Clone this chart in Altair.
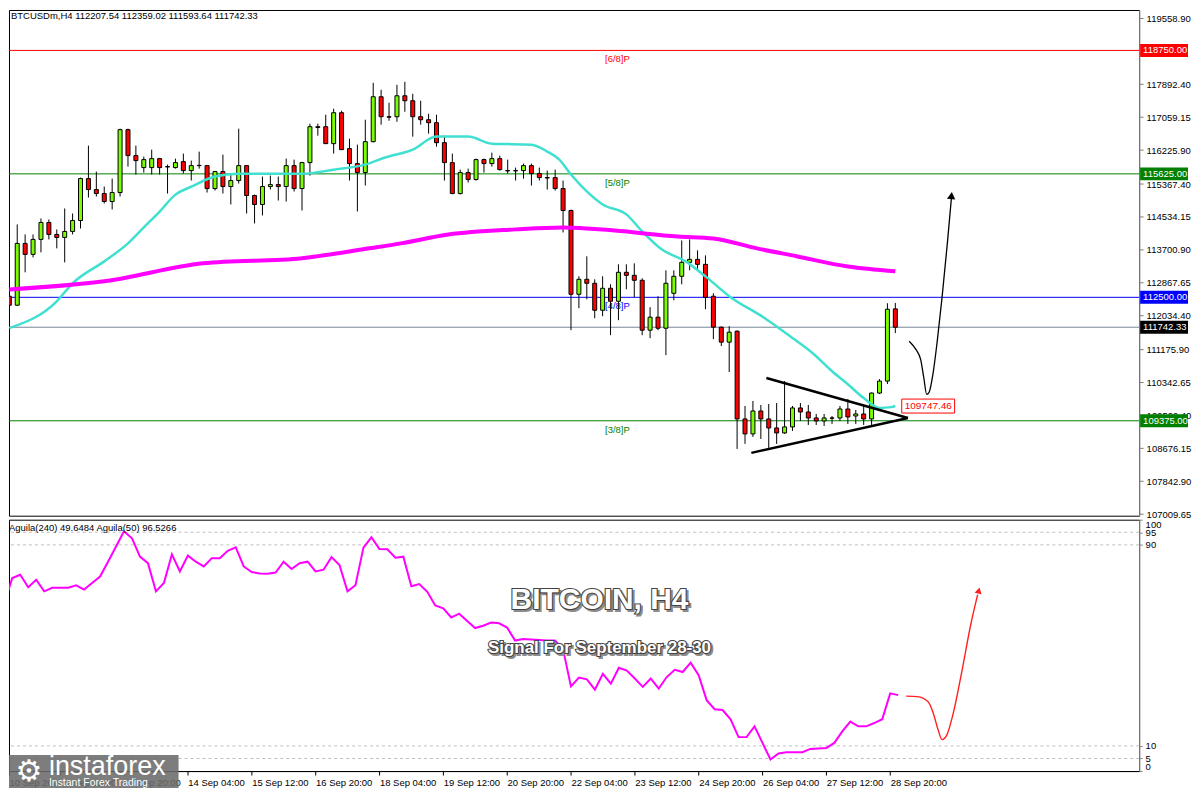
import altair as alt
import pandas as pd

# ---------------- values ----------------
header_text = "BTCUSDm,H4  112207.54 112359.02 111593.64 111742.33"
osc_header = "Aguila(240) 49.6484  Aguila(50) 96.5266"
title_text = "BITCOIN, H4"
subtitle_text = "Signal For September 28-30"

# H4 candles, index 1..113 (candle 112 = 28 Sep 20:00)
opens = [112527, 112300, 113865, 113587, 113966, 114395, 114092, 114016, 114168, 114445,
         115506, 115228, 115127, 114925, 115152, 116744, 116087, 115784, 115784, 116011,
         115809, 115784, 115935, 115708, 115834, 115834, 115253, 115683, 115304, 115456,
         115834, 115077, 114850, 115304, 115354, 115304, 115834, 115253, 115910, 116819,
         116819, 116390, 117173, 116264, 115885, 115658, 116440, 117577, 117072, 117072,
         117602, 117476, 117072, 116996, 116920, 116415, 115910, 115127, 115658, 115481,
         115986, 115885, 116011, 115708, 115700, 115708, 115834, 115633, 115531, 115531,
         115253, 114698, 112577, 112956, 112855, 112173, 112729, 112400, 113133, 113057,
         112931, 111668, 111997, 111718, 112602, 113032, 113385, 113461, 113335, 112527,
         111744, 111365, 111643, 109421, 109042, 109623, 109421, 109193, 109067, 109219,
         109699, 109597, 109446, 109370, 109446, 109446, 109673, 109496, 109547, 109421,
         110077, 110380, 112207.54]
highs = [112855, 114345, 114092, 114092, 114496, 114470, 114218, 114749, 114622, 115531,
         116340, 115683, 115304, 115506, 116769, 116770, 116340, 116062, 116238, 116030,
         115860, 116011, 116138, 115961, 116188, 115850, 115700, 116112, 115607, 116769,
         115850, 115102, 115557, 115582, 115557, 116011, 115986, 115930, 116895, 116895,
         117122, 117274, 117224, 116516, 116365, 116996, 117930, 117754, 117425, 117880,
         117955, 117652, 117476, 117148, 117122, 116592, 116138, 115733, 115758, 116011,
         116011, 116163, 116087, 115986, 115784, 115885, 115885, 115784, 115708, 115733,
         115456, 114720, 113032, 113537, 112956, 113032, 112830, 113335, 113335, 113360,
         112981, 112250, 112527, 113183, 113183, 113940, 113966, 113688, 113562, 112602,
         111760, 111769, 111660, 109750, 109875, 109775, 109800, 109825, 110380, 109750,
         109825, 109775, 109547, 109547, 109496, 109750, 109926, 109648, 109775, 110090,
         110430, 112350, 112359.02]
lows = [112098, 112280, 113133, 113510, 113638, 113966, 113739, 113385, 114092, 114243,
        115026, 115051, 114875, 114724, 115051, 115809, 115607, 115658, 115607, 115607,
        115127, 115758, 115633, 115456, 115758, 115152, 115203, 115127, 114850, 115380,
        114622, 114370, 114572, 115228, 114951, 114925, 115178, 114698, 115582, 116592,
        116390, 116138, 116230, 115456, 114673, 115329, 116420, 116870, 116970, 116945,
        117198, 116567, 116870, 116643, 116314, 115456, 115110, 115102, 115405, 115456,
        115658, 115809, 115708, 115633, 115456, 115506, 115329, 115456, 115228, 115203,
        114142, 111668, 112224, 112451, 111971, 112022, 111542, 111921, 112703, 112501,
        111542, 111466, 111668, 111037, 112425, 112830, 113183, 113183, 112198, 111441,
        111265, 110608, 108663, 108790, 108966, 108915, 108688, 108790, 109042, 109118,
        109370, 109269, 109269, 109244, 109295, 109370, 109295, 109295, 109269, 109269,
        110052, 110305, 111593.64]
closes = [112300, 113865, 113587, 113966, 114395, 114092, 114016, 114168, 114445, 115506,
          115228, 115127, 114925, 115152, 116744, 116087, 115961, 115986, 116011, 115784,
          115800, 115910, 115708, 115834, 115840, 115253, 115683, 115304, 115456, 115834,
          115077, 114850, 115304, 115354, 115304, 115834, 115253, 115910, 116819, 116800,
          116390, 117173, 116238, 115885, 115658, 116440, 117577, 117072, 117060, 117602,
          117476, 117072, 116996, 116920, 116415, 115910, 115127, 115658, 115481, 115986,
          115885, 116011, 115733, 115700, 115708, 115834, 115633, 115531, 115520, 115253,
          114698, 112577, 112956, 112855, 112173, 112729, 112400, 113133, 113057, 112931,
          111668, 111997, 111718, 112855, 113032, 113385, 113461, 113335, 112501, 111744,
          111365, 111617, 109421, 109042, 109623, 109421, 109193, 109067, 109219, 109699,
          109597, 109446, 109370, 109446, 109440, 109673, 109471, 109547, 109421, 110077,
          110380, 112198, 111742.33]
candle_idx = list(range(1, len(opens) + 1))

# fast moving average (turquoise)
cyan_idx = [1, 7, 9, 13, 16, 18, 20, 22, 24, 27, 30, 38, 42, 46, 48.5, 52, 55, 59, 62, 67,
            69, 70.5, 72, 74, 76, 79, 81, 83.5, 86.5, 89, 92, 96.5, 100, 102.7, 105, 107,
            109, 111, 112.5, 113]
cyan_val = [111720, 112400, 112855, 113410, 113865, 114270, 114670, 115100, 115300, 115560,
            115630, 115630, 115730, 115860, 116040, 116240, 116570, 116570, 116390, 116365,
            116190, 115990, 115610, 115180, 114850, 114600, 114170, 113710, 113410, 113030,
            112530, 111970, 111470, 111060, 110630, 110300, 109950, 109700, 109720, 109747.46]
# slow moving average (magenta)
mag_idx = [1, 13, 25.5, 38, 46.5, 50.5, 56.5, 65, 71, 77.5, 85.5, 90, 95.5, 100.5, 107, 113]
mag_val = [112700, 112905, 113360, 113490, 113740, 113865, 114090, 114220, 114270, 114190,
           114040, 113990, 113740, 113540, 113280, 113160]

# Aguila(50) oscillator, one value per candle
aguila50 = [66.6, 76.8, 78.1, 73.1, 76.1, 71.5, 72.9, 72.9, 72.9, 73.9,
            72.2, 74.8, 77.4, 83.3, 89.3, 95.4, 92.6, 85.3, 82.7, 71.5,
            74.8, 86.2, 79.4, 85.7, 83.3, 81.4, 84.7, 84.7, 87.6, 89.0,
            81.4, 79.2, 78.6, 78.5, 79.0, 83.3, 80.4, 82.7, 83.3, 79.4,
            80.1, 85.1, 82.0, 71.5, 73.9, 88.9, 93.0, 88.3, 88.2, 84.9,
            85.3, 73.5, 74.4, 71.3, 65.9, 64.7, 61.1, 62.6, 59.7, 56.9,
            57.8, 59.1, 58.8, 57.1, 51.9, 52.5, 52.3, 52.1, 51.9, 51.9,
            48.6, 33.7, 37.2, 36.5, 32.4, 38.7, 34.8, 41.1, 40.0, 36.8,
            33.5, 36.8, 32.8, 37.4, 40.3, 39.4, 43.1, 38.1, 28.2, 24.6,
            24.3, 20.6, 13.5, 13.5, 17.8, 11.2, 4.6, 7.0, 7.5, 7.5,
            7.5, 8.8, 9.0, 9.2, 11.2, 15.8, 19.7, 17.8, 17.8, 19.1,
            20.6, 30.9, 30.2]

level_prices = [118750.00, 115625.00, 112500.00, 109375.00]
level_names = ["[6/8]P", "[5/8]P", "[4/8]P", "[3/8]P"]
current_price = 111742.33
ma_label_value = 109747.46

price_ticks = [119558.90, 117892.40, 117059.15, 116225.90, 115367.40, 114534.15, 113700.90,
               112867.65, 112034.40, 111175.90, 110342.65, 109509.40, 108676.15, 107842.90,
               107009.65]
time_tick_idx = [1.59, 8, 16, 24, 32, 40, 48, 56, 64, 72, 80, 88, 96, 104, 112]
time_tick_labels = ["10 Sep 2025", "11 Sep 12:00", "12 Sep 20:00", "14 Sep 04:00",
                    "15 Sep 12:00", "16 Sep 20:00", "18 Sep 04:00", "19 Sep 12:00",
                    "20 Sep 20:00", "22 Sep 04:00", "23 Sep 12:00", "24 Sep 20:00",
                    "26 Sep 04:00", "27 Sep 12:00", "28 Sep 20:00"]
osc_levels = [95, 90, 10, 5]
osc_ticks = [0, 5, 10, 90, 95, 100]

# hand-drawn annotations (candle index, price / oscillator value)
tri_seg = ["upper", "upper", "lower", "lower"]
tri_idx = [96.7, 114.6, 94.8, 114.6]
tri_price = [110456, 109446, 108563, 109446]
path_idx = [114.75, 115.6, 116.2, 116.6, 116.96, 117.25, 117.75, 118.3, 118.9, 119.6, 120.08]
path_price = [111390, 111181, 110928, 110464, 110045, 110085, 110550, 111390, 112484, 113915, 114993]
head_idx = [120.1]
head_price = [115077]
osc_path_idx = [114.0, 115.4, 116.75, 117.4, 118.0, 118.5, 119.1, 119.9, 121.0, 122.1, 122.96]
osc_path_val = [29.8, 29.6, 27.6, 23.0, 16.4, 12.5, 14.4, 23.0, 40.0, 58.4, 70.2]
osc_head_idx = [123.1]
osc_head_val = [71.8]

# ---------------- layout / style ----------------
W, HM, HO = 1133, 507, 252
X_DOMAIN = [1.59, 143.19]
Y_DOMAIN = [106971.75, 119773.5]
O_DOMAIN = [0, 100]
FONT = "Liberation Sans"
GREEN_UP = "#7cfc00"
RED_DN = "#ff0000"
level_colors = ["#ff0000", "#008000", "#0000ff", "#008000"]

# one shared colour scale for every coloured mark of the price panel
color_keys = level_names + ["now", "up", "down"]
color_vals = level_colors + ["#000000", GREEN_UP, RED_DN]
cscale = alt.Scale(domain=color_keys, range=color_vals)

xs = alt.Scale(domain=X_DOMAIN, nice=False, zero=False)
ys = alt.Scale(domain=Y_DOMAIN, nice=False, zero=False)
osc_s = alt.Scale(domain=O_DOMAIN, nice=False, zero=False)

y_axis = alt.Axis(orient="right", values=price_ticks, format=".2f", title=None, grid=False,
                  tickSize=4, labelPadding=3, labelOverlap=False, labelFlush=False,
                  domainColor="#7f7f7f", tickColor="#7f7f7f", labelFont=FONT,
                  labelFontSize=9.5, labelColor="#000000")

expr = " : ".join(f"abs(datum.value - {p}) < 0.01 ? '{lab}'"
                  for p, lab in zip(time_tick_idx, time_tick_labels)) + " : ''"
x_axis = alt.Axis(values=time_tick_idx, labelExpr=expr, labelAlign="left", labelFlush=False,
                  labelOverlap=False, tickSize=4, tickColor="#000000", domainColor="#000000",
                  labelFont=FONT, labelFontSize=9.5, labelPadding=2, grid=False, title=None,
                  labelColor="#000000")
o_axis = alt.Axis(orient="right", values=osc_ticks, format="d", title=None, grid=False,
                  tickSize=3, labelPadding=3, labelFlush=True, labelOverlap=False,
                  domainColor="#7f7f7f", tickColor="#7f7f7f", labelFont=FONT,
                  labelFontSize=9.5, labelColor="#000000")


def PX(f):
    return alt.X(f, type="quantitative", scale=xs, axis=None)


def PY(f):
    return alt.Y(f, type="quantitative", scale=ys, axis=y_axis)


def OX(f):
    return alt.X(f, type="quantitative", scale=xs, axis=x_axis)


def OY(f):
    return alt.Y(f, type="quantitative", scale=osc_s, axis=o_axis)


def CC(f):
    return alt.Color(f, type="nominal", scale=cscale, legend=None)


px_per_price = HM / (Y_DOMAIN[1] - Y_DOMAIN[0])
half_box = 6.5 / px_per_price
half_ma_box = 7.0 / px_per_price

# ---------------- main price panel ----------------
lev = pd.DataFrame({"p": level_prices, "name": level_names})

level_rules = alt.Chart(lev).mark_rule(strokeWidth=1, clip=True).encode(
    y=PY("p"), color=CC("name"))
level_text = alt.Chart(lev).mark_text(dy=9, font=FONT, fontSize=9.5, clip=True).encode(
    x=alt.value(610), y=PY("p"), text="name:N", color=CC("name"))
cur_rule = alt.Chart(pd.DataFrame({"p": [current_price]})).mark_rule(
    color="#778899", strokeWidth=1, clip=True).encode(y=PY("p"))

cdf = pd.DataFrame({"i": candle_idx, "o": opens, "h": highs, "l": lows, "c": closes})
cdf["dir"] = ["up" if c >= o else "down" for o, c in zip(opens, closes)]
wicks = alt.Chart(cdf).mark_rule(color="#000000", strokeWidth=1, clip=True).encode(
    x=PX("i"), y=PY("l"), y2=alt.Y2("h"))
bodies = alt.Chart(cdf).mark_bar(width=4, stroke="#000000", strokeWidth=1, clip=True).encode(
    x=PX("i"), y=PY("o"), y2=alt.Y2("c"), color=CC("dir"))

cyan = alt.Chart(pd.DataFrame({"i": cyan_idx, "p": cyan_val})).mark_line(
    color="#40e0d0", strokeWidth=2.5, interpolate="monotone", clip=True).encode(x=PX("i"), y=PY("p"))
magenta = alt.Chart(pd.DataFrame({"i": mag_idx, "p": mag_val})).mark_line(
    color="#ff00ff", strokeWidth=4, interpolate="monotone", clip=True).encode(x=PX("i"), y=PY("p"))

tri = alt.Chart(pd.DataFrame({"seg": tri_seg, "i": tri_idx, "p": tri_price})).mark_line(
    color="#000000", strokeWidth=2.5, clip=True).encode(x=PX("i"), y=PY("p"), detail="seg:N")
path = alt.Chart(pd.DataFrame({"i": path_idx, "p": path_price})).mark_line(
    color="#000000", strokeWidth=1.3, interpolate="monotone", clip=True).encode(x=PX("i"), y=PY("p"))
head = alt.Chart(pd.DataFrame({"i": head_idx, "p": head_price})).mark_point(
    shape="triangle-up", filled=True, color="#000000", opacity=1, size=70, angle=6).encode(
    x=PX("i"), y=PY("p"))

ma_df = pd.DataFrame({"p": [ma_label_value], "txt": [f"{ma_label_value:.2f}"]})
ma_box = alt.Chart(ma_df).transform_calculate(
    lo=f"datum.p - {half_ma_box}", hi=f"datum.p + {half_ma_box}").mark_rect(
    fill="#ffffff", stroke="#ff0000", strokeWidth=1).encode(
    x=alt.value(895), x2=alt.value(948), y=PY("lo"), y2=alt.Y2("hi"))
ma_txt = alt.Chart(ma_df).mark_text(align="left", baseline="middle", color="#ff0000",
                                    font=FONT, fontSize=10).encode(
    x=alt.value(898), y=PY("p"), text="txt:N")

box_names = level_names + ["now"]
box_df = pd.DataFrame({"p": level_prices + [current_price], "name": box_names,
                       "txt": [f"{v:.2f}" for v in level_prices + [current_price]]})
boxes = alt.Chart(box_df).transform_calculate(
    lo=f"datum.p - {half_box}", hi=f"datum.p + {half_box}").mark_rect().encode(
    x=alt.value(W + 1), x2=alt.value(W + 49), y=PY("lo"), y2=alt.Y2("hi"), color=CC("name"))
box_txt = alt.Chart(box_df).mark_text(align="left", baseline="middle", color="#ffffff",
                                      font=FONT, fontSize=9.5).encode(
    x=alt.value(W + 4), y=PY("p"), text="txt:N")

header = alt.Chart(pd.DataFrame({"t": [header_text]})).mark_text(
    align="left", baseline="top", font=FONT, fontSize=9.5, color="#000000").encode(
    x=alt.value(2), y=alt.value(1), text="t:N")

main = alt.layer(level_rules, cur_rule, level_text, wicks, bodies, cyan, magenta, tri, path,
                 head, ma_box, ma_txt, boxes, box_txt, header).properties(width=W, height=HM)

# ---------------- oscillator panel ----------------
osc_rules = alt.Chart(pd.DataFrame({"v": osc_levels})).mark_rule(
    color="#c0c0c0", strokeDash=[3, 3], strokeWidth=1).encode(y=OY("v"))
ag = alt.Chart(pd.DataFrame({"i": candle_idx, "v": aguila50})).mark_line(
    color="#ff00ff", strokeWidth=2, clip=True).encode(x=OX("i"), y=OY("v"))
opath = alt.Chart(pd.DataFrame({"i": osc_path_idx, "v": osc_path_val})).mark_line(
    color="#ff2020", strokeWidth=1.4, interpolate="monotone", clip=True).encode(x=OX("i"), y=OY("v"))
ohead = alt.Chart(pd.DataFrame({"i": osc_head_idx, "v": osc_head_val})).mark_point(
    shape="triangle-up", filled=True, color="#ff2020", opacity=1, size=50, angle=13).encode(
    x=OX("i"), y=OY("v"))

tdf = pd.DataFrame({"t": [title_text]})
sdf = pd.DataFrame({"t": [subtitle_text]})


def fancy(df, size, x, y):
    base = dict(align="center", baseline="middle", font=FONT, fontWeight="bold", fontSize=size)
    shadow = alt.Chart(df).mark_text(color="#8c8c8c", stroke="#8c8c8c", strokeWidth=2,
                                     dx=2, dy=2, **base).encode(
        x=alt.value(x), y=alt.value(y), text="t:N")
    outline = alt.Chart(df).mark_text(color="#ffffff", stroke="#444444", strokeWidth=2.2,
                                      **base).encode(x=alt.value(x), y=alt.value(y), text="t:N")
    fill = alt.Chart(df).mark_text(color="#ffffff", **base).encode(
        x=alt.value(x), y=alt.value(y), text="t:N")
    return [shadow, outline, fill]


osc_head_txt = alt.Chart(pd.DataFrame({"t": [osc_header]})).mark_text(
    align="left", baseline="middle", font=FONT, fontSize=9.5, color="#000000").encode(
    x=alt.value(0), y=alt.value(8), text="t:N")

logo_box = alt.Chart(pd.DataFrame({"a": [0]})).mark_rect(color="#6b6b6b", opacity=0.88).encode(
    x=alt.value(0), x2=alt.value(170), y=alt.value(HO - 16), y2=alt.value(HO + 17))
logo_icon = alt.Chart(pd.DataFrame({"t": ["\u2699"]})).mark_text(
    align="center", baseline="middle", font="DejaVu Sans", fontSize=30, color="#ffffff").encode(
    x=alt.value(20), y=alt.value(HO + 1), text="t:N")
logo_name = alt.Chart(pd.DataFrame({"t": ["instaforex"]})).mark_text(
    align="left", baseline="alphabetic", font=FONT, fontSize=27, color="#ffffff").encode(
    x=alt.value(40), y=alt.value(HO + 4), text="t:N")
logo_tag = alt.Chart(pd.DataFrame({"t": ["Instant Forex Trading"]})).mark_text(
    align="left", baseline="alphabetic", font=FONT, fontSize=10.5, color="#ffffff").encode(
    x=alt.value(40), y=alt.value(HO + 15), text="t:N")

lower = alt.layer(osc_rules, ag, opath, ohead, *fancy(tdf, 30, 592, 81),
                  *fancy(sdf, 17, 592, 129), osc_head_txt, logo_box, logo_icon, logo_name,
                  logo_tag).properties(width=W, height=HO)

chart = alt.vconcat(main, lower, spacing=4, bounds="flush").properties(
    padding=0, background="#ffffff").configure_view(stroke="#000000", strokeWidth=1)

chart.save("out.html", embed_options={"renderer": "svg", "actions": False})
